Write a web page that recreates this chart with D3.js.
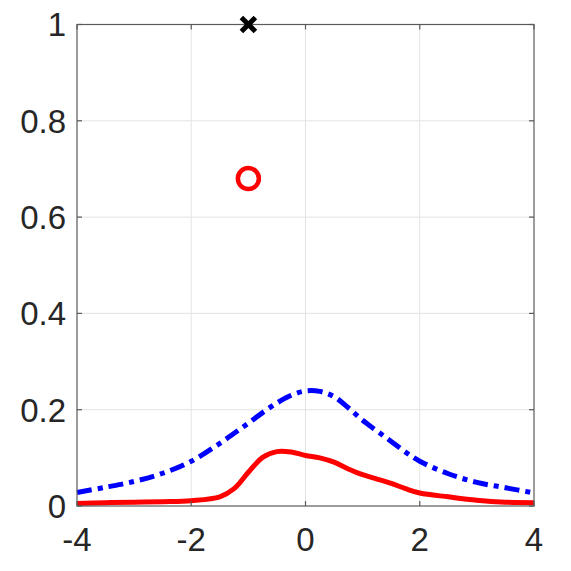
<!DOCTYPE html>
<html>
<head>
<meta charset="utf-8">
<script src="https://cdn.jsdelivr.net/npm/d3@7"></script>
<style>
  body { margin: 0; background: #fff; }
  text { font-family: "Liberation Sans", Arial, sans-serif; fill: #262626; }
</style>
</head>
<body>
<svg id="chart" width="571" height="571"></svg>
<script>
// sample positions along x
var xs = [-4, -3.5, -3, -2.5, -2, -1.5, -1.25, -1, -0.75, -0.5, -0.25, 0, 0.25, 0.5, 0.75, 1, 1.25, 1.5, 1.75, 2, 2.5, 3, 3.5, 4];

// blue dash-dot curve
var blueVals = [0.028, 0.039, 0.051, 0.068, 0.093, 0.13, 0.151, 0.172, 0.194, 0.214, 0.23, 0.239, 0.238, 0.227, 0.204, 0.178, 0.156, 0.134, 0.112, 0.093, 0.067, 0.049, 0.038, 0.027];

// red solid curve
var redVals = [0.005, 0.007, 0.008, 0.009, 0.011, 0.019, 0.036, 0.07, 0.101, 0.113, 0.112, 0.105, 0.1, 0.091, 0.077, 0.065, 0.056, 0.047, 0.036, 0.027, 0.019, 0.012, 0.008, 0.007];

// single markers
var crossPt = [{x: -1, y: 1}];
var circlePt = [{x: -1, y: 0.68}];

var xTicks = [-4, -2, 0, 2, 4];
var yTicks = [0, 0.2, 0.4, 0.6, 0.8, 1];

(function draw() {
  var svg = d3.select('#chart');
  var pLeft = 77, pRight = 534, pTop = 24.5, pBottom = 506;

  var x = d3.scaleLinear().domain([-4, 4]).range([pLeft, pRight]);
  var y = d3.scaleLinear().domain([0, 1]).range([pBottom, pTop]);

  // grid
  var grid = svg.append('g').attr('stroke', '#e3e3e3').attr('stroke-width', 1);
  grid.selectAll('line.gx').data(xTicks.slice(1, -1)).enter().append('line')
    .attr('x1', d => x(d)).attr('x2', d => x(d)).attr('y1', pTop).attr('y2', pBottom);
  grid.selectAll('line.gy').data(yTicks.slice(1, -1)).enter().append('line')
    .attr('x1', pLeft).attr('x2', pRight).attr('y1', d => y(d)).attr('y2', d => y(d));

  // curves
  var line = d3.line()
    .x(d => x(d[0]))
    .y(d => y(d[1]))
    .curve(d3.curveCatmullRom.alpha(0.5));

  svg.append('path')
    .datum(d3.zip(xs, redVals))
    .attr('d', line)
    .attr('fill', 'none')
    .attr('stroke', '#ff0000')
    .attr('stroke-width', 5)
    .attr('stroke-linejoin', 'round');

  svg.append('path')
    .datum(d3.zip(xs, blueVals))
    .attr('d', line)
    .attr('fill', 'none')
    .attr('stroke', '#0000ff')
    .attr('stroke-width', 5)
    .attr('stroke-dasharray', '15,6,5,6');

  // axes box
  var axisColor = '#5a5a5a';
  svg.append('rect')
    .attr('x', pLeft).attr('y', pTop)
    .attr('width', pRight - pLeft).attr('height', pBottom - pTop)
    .attr('fill', 'none').attr('stroke', axisColor).attr('stroke-width', 1.2);

  // inward ticks on all four sides
  var tk = 5;
  var ticks = svg.append('g').attr('stroke', axisColor).attr('stroke-width', 1.2);
  xTicks.forEach(function(t) {
    ticks.append('line').attr('x1', x(t)).attr('x2', x(t)).attr('y1', pBottom).attr('y2', pBottom - tk);
    ticks.append('line').attr('x1', x(t)).attr('x2', x(t)).attr('y1', pTop).attr('y2', pTop + tk);
  });
  yTicks.forEach(function(t) {
    ticks.append('line').attr('x1', pLeft).attr('x2', pLeft + tk).attr('y1', y(t)).attr('y2', y(t));
    ticks.append('line').attr('x1', pRight).attr('x2', pRight - tk).attr('y1', y(t)).attr('y2', y(t));
  });

  // tick labels
  svg.selectAll('text.xl').data(xTicks).enter().append('text')
    .attr('x', d => x(d))
    .attr('y', 551)
    .attr('text-anchor', 'middle')
    .attr('font-size', 33)
    .text(d => d);

  svg.selectAll('text.yl').data(yTicks).enter().append('text')
    .attr('x', 66)
    .attr('y', d => y(d))
    .attr('dy', '0.36em')
    .attr('text-anchor', 'end')
    .attr('font-size', 33)
    .text(d => d);

  // markers
  svg.selectAll('circle.mk').data(circlePt).enter().append('circle')
    .attr('cx', d => x(d.x)).attr('cy', d => y(d.y))
    .attr('r', 10.5)
    .attr('fill', 'none').attr('stroke', '#ff0000').attr('stroke-width', 4.5);

  var cs = 7;
  crossPt.forEach(function(d) {
    var cx = x(d.x), cy = y(d.y);
    svg.append('path')
      .attr('d', 'M' + (cx - cs) + ',' + (cy - cs) + 'L' + (cx + cs) + ',' + (cy + cs) +
                 'M' + (cx - cs) + ',' + (cy + cs) + 'L' + (cx + cs) + ',' + (cy - cs))
      .attr('stroke', '#000').attr('stroke-width', 5).attr('fill', 'none');
  });
})();
</script>
</body>
</html>
